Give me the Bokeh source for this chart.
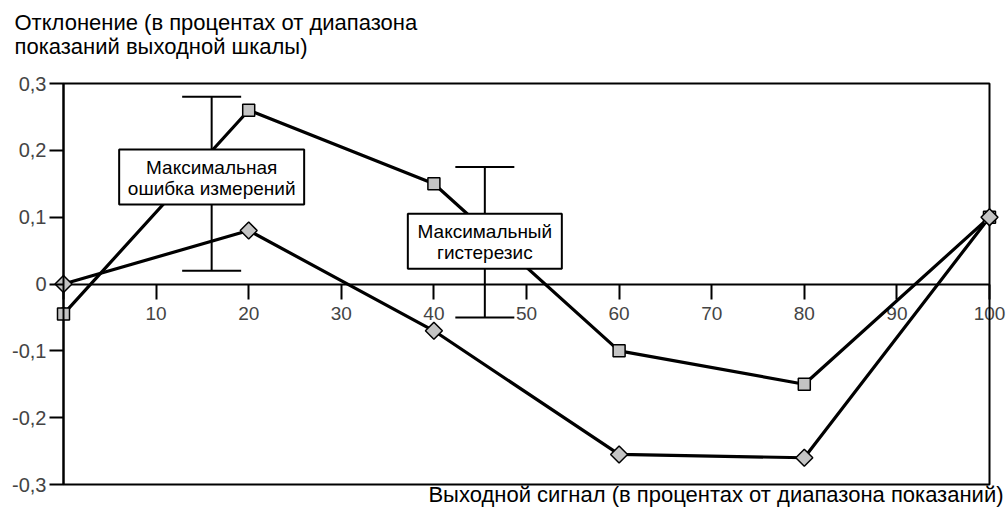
import math
from bokeh.plotting import figure
from bokeh.models import (FixedTicker, CustomJSTickFormatter, ColumnDataSource, Range1d)
from bokeh.embed import file_html
from bokeh.resources import INLINE
from bokeh.core.properties import value

# ---- data ----
signal = [0, 20, 40, 60, 80, 100]
dev_square = [-0.045, 0.26, 0.15, -0.10, -0.15, 0.10]
dev_diamond = [0.0, 0.08, -0.07, -0.255, -0.26, 0.10]

x_lim = [0, 100]
y_lim = [-0.3, 0.3]
x_ticks = [0, 10, 20, 30, 40, 50, 60, 70, 80, 90, 100]
y_ticks = [-0.3, -0.2, -0.1, 0.0, 0.1, 0.2, 0.3]

bar_x = [16, 45.5]
bar_upper = [0.28, 0.175]
bar_lower = [0.02, -0.05]

note_line1 = ["Максимальная", "Максимальный"]
note_line2 = ["ошибка измерений", "гистерезис"]
note_y = [0.16, 0.064]

y_title_1 = "Отклонение (в процентах от диапазона"
y_title_2 = "показаний выходной шкалы)"
x_title = "Выходной сигнал (в процентах от диапазона показаний)"

# ---- layout / styles (pixels) ----
W, H = 1008, 508
BOX_L, BOX_R, BOX_T, BOX_B = 63, 989, 83, 484
note_w = [185, 154]
note_h = [55, 55]
FONT = "Liberation Sans"
GRAY = "#c4c4c4"

# ranges so that the data box lands on the pixel box
px_per_x = (BOX_R - BOX_L) / (x_lim[1] - x_lim[0])
px_per_y = (BOX_B - BOX_T) / (y_lim[1] - y_lim[0])
x_range = Range1d(x_lim[0] - BOX_L / px_per_x, x_lim[1] + (W - BOX_R) / px_per_x)
y_range = Range1d(y_lim[0] - (H - BOX_B) / px_per_y, y_lim[1] + BOX_T / px_per_y)

p = figure(frame_width=W, frame_height=H, x_range=x_range, y_range=y_range,
           output_backend="svg", toolbar_location=None,
           min_border_left=0, min_border_right=0, min_border_top=0, min_border_bottom=0)
p.grid.visible = False
p.outline_line_color = None
p.background_fill_color = "white"
p.border_fill_color = "white"

# y axis at x = 0
ya = p.yaxis[0]
ya.fixed_location = x_lim[0]
ya.bounds = (y_lim[0], y_lim[1])
ya.ticker = FixedTicker(ticks=y_ticks)
ya.formatter = CustomJSTickFormatter(code="""
if (Math.abs(tick) < 1e-9) { return "0"; }
return tick.toFixed(1).replace(".", ",");
""")
ya.major_tick_out = 14
ya.major_tick_in = 0
ya.minor_tick_line_color = None
ya.axis_line_width = 2
ya.major_tick_line_width = 2
ya.major_label_text_font = FONT
ya.major_label_text_font_size = "20px"
ya.major_label_standoff = 3

# x axis at y = 0
xa = p.xaxis[0]
xa.fixed_location = 0
xa.bounds = (x_lim[0], x_lim[1])
xa.ticker = FixedTicker(ticks=x_ticks)
xa.major_tick_out = 15
xa.major_tick_in = 0
xa.minor_tick_line_color = None
xa.axis_line_width = 2
xa.major_tick_line_width = 2
xa.major_label_text_font = FONT
xa.major_label_text_font_size = "19px"
xa.major_label_standoff = 8
xa.level = "underlay"

# frame box
p.quad(left=[x_lim[0]], right=[x_lim[1]], bottom=[y_lim[0]], top=[y_lim[1]],
       fill_color=None, line_color="black", line_width=2)

# axis titles (anchored to the box corners)
p.text(x=[x_lim[0]], y=[y_lim[1]], text=[y_title_1], x_offset=-49, y_offset=-61,
       text_align="left", text_baseline="middle", text_font=value(FONT),
       text_font_size="22px", text_color="black")
p.text(x=[x_lim[0]], y=[y_lim[1]], text=[y_title_2], x_offset=-49, y_offset=-37,
       text_align="left", text_baseline="middle", text_font=value(FONT),
       text_font_size="22px", text_color="black")
p.text(x=[x_lim[1]], y=[y_lim[0]], text=[x_title], x_offset=14, y_offset=10,
       text_align="right", text_baseline="middle", text_font=value(FONT),
       text_font_size="22px", text_color="black")

# series lines
p.line(signal, dev_square, line_color="black", line_width=3.2)
p.line(signal, dev_diamond, line_color="black", line_width=3.2)

# whiskers
p.segment(x0=bar_x, y0=bar_lower, x1=bar_x, y1=bar_upper, line_color="black", line_width=2)
p.scatter(bar_x, bar_upper, marker="dash", size=59, line_color="black", line_width=2)
p.scatter(bar_x, bar_lower, marker="dash", size=59, line_color="black", line_width=2)

# note boxes
notes = ColumnDataSource(dict(x=bar_x, y=note_y, w=note_w, h=note_h, t1=note_line1, t2=note_line2))
p.rect(x="x", y="y", width="w", height="h", width_units="screen", height_units="screen",
       source=notes, fill_color="white", line_color="black", line_width=2)
p.text(x="x", y="y", text="t1", source=notes, y_offset=-10, text_align="center",
       text_baseline="middle", text_font=value(FONT), text_font_size="19px", text_color="black")
p.text(x="x", y="y", text="t2", source=notes, y_offset=11, text_align="center",
       text_baseline="middle", text_font=value(FONT), text_font_size="19px", text_color="black")

# markers
p.scatter(signal, dev_square, marker="square", size=12, fill_color=GRAY,
          line_color="black", line_width=1.5)
p.scatter(signal, dev_diamond, marker="square", angle=math.pi / 4, size=12, fill_color=GRAY,
          line_color="black", line_width=1.5)

open("out.html", "w").write(file_html(p, INLINE))
